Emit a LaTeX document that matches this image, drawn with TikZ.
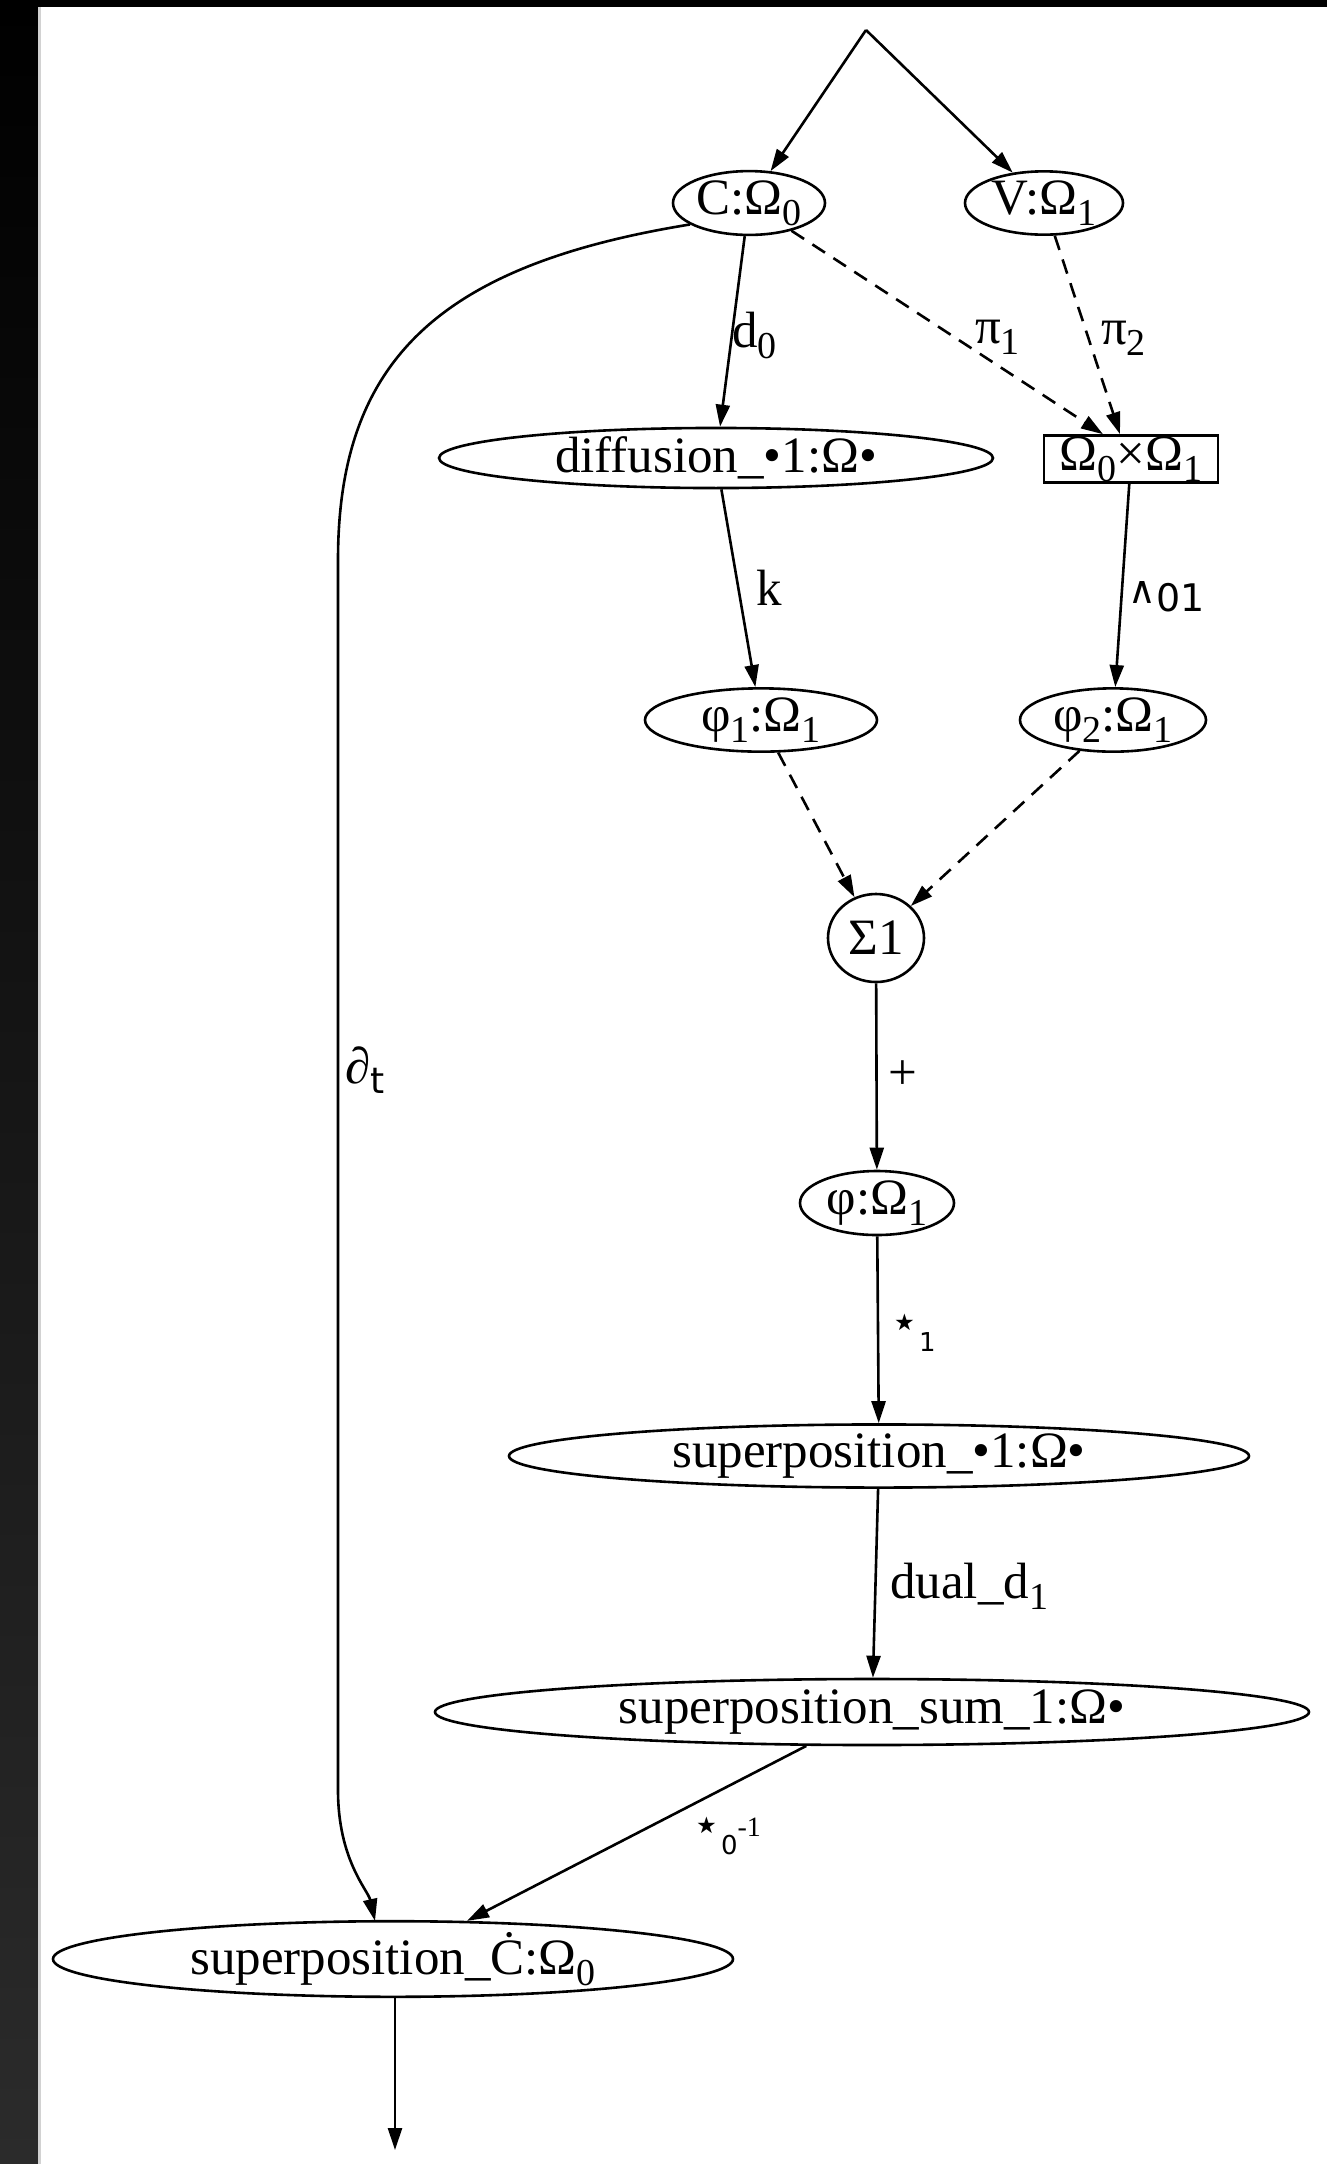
\documentclass[tikz,border=0pt]{standalone}
\usepackage{fontspec}
\setmainfont{Liberation Serif}
\newfontfamily\dejavu{DejaVu Sans}
\usetikzlibrary{shapes.geometric,arrows.meta,calc}
\definecolor{stripgray}{RGB}{43,43,43}
\definecolor{edgegray}{RGB}{210,210,210}
\newcommand{\sbs}[1]{\raisebox{-11pt}{\fontsize{38}{40}\selectfont #1}}
\begin{document}
\begin{tikzpicture}[x=1pt,y=-1pt,
  every node/.style={font=\fontsize{51}{58}\selectfont},
  nd/.style={draw,ellipse,line width=2.6pt,inner sep=0pt},
  bx/.style={draw,rectangle,line width=2.6pt,inner sep=0pt},
  edge/.style={line width=2.6pt,-{Triangle[length=22pt,width=14pt]}},
  dsh/.style={edge,dash pattern=on 15pt off 10pt},
  lbl/.style={inner sep=0pt,anchor=west}
]
\useasboundingbox (0,0) rectangle (1327,2164);
% frame / background
\fill[white] (0,0) rectangle (1327,2164);
\shade[top color=black,bottom color=stripgray] (0,0) rectangle (38,2164);
\fill[edgegray] (38,7) rectangle (41,2164);
\fill[black] (0,0) rectangle (1327,7);

% nodes
\coordinate (top) at (866,30);
\node[nd,minimum width=152pt,minimum height=56pt] (C) at (749,203) {C:Ω\sbs{0}};
\node[nd,minimum width=158pt,minimum height=56pt] (V) at (1044,203) {V:Ω\sbs{1}};
\node[nd,minimum width=554pt,minimum height=56pt] (D) at (716,458) {diffusion\_•1:Ω•};
\node[bx,minimum width=174pt,minimum height=47pt] (B) at (1131,459) {Ω\sbs{0}×Ω\sbs{1}};
\node[nd,minimum width=232pt,minimum height=56pt] (P1) at (761,720) {φ\sbs{1}:Ω\sbs{1}};
\node[nd,minimum width=186pt,minimum height=56pt] (P2) at (1113,720) {φ\sbs{2}:Ω\sbs{1}};
\node[nd,minimum width=96pt,minimum height=88pt] (S) at (876,938) {Σ1};
\node[nd,minimum width=154pt,minimum height=64pt] (P) at (877,1203) {φ:Ω\sbs{1}};
\node[nd,minimum width=740pt,minimum height=61pt] (SP) at (879,1456) {superposition\_•1:Ω•};
\node[nd,minimum width=874pt,minimum height=66pt] (SS) at (872,1712) {superposition\_sum\_1:Ω•};
\node[nd,minimum width=680pt,minimum height=65pt] (CD) at (393,1959) {superposition\_Ċ:Ω\sbs{0}};
\coordinate (bot) at (395,2150);

% edges
\draw[edge] (top) -- (C);
\draw[edge] (top) -- (V);
\draw[edge] (C) -- (D);
\draw[dsh] (C) -- ($(B.north)+(-28,0)$);
\draw[dsh] (V) -- ($(B.north)+(-11,0)$);
\draw[edge] (C.200) .. controls (440,265) and (338,360) .. (338,560) -- (338,1790)
   .. controls (338,1860) and (368,1890) .. ($(CD.north)+(-18,1)$);
\draw[edge] (D) -- (P1);
\draw[edge] (B) -- (P2);
\draw[dsh] (P1) -- (S);
\draw[dsh] (P2) -- (S);
\draw[edge] (S) -- (P);
\draw[edge] (P) -- (SP);
\draw[edge] (SP) -- (SS);
\draw[edge] (SS) -- (CD);
\draw[edge] (CD.south -| bot) -- (bot);

% labels
\node[lbl] (ld0) at (732,335) {d\sbs{0}};
\node[lbl] (lpi1) at (975,337) {π\sbs{1}};
\node[lbl] (lpi2) at (1101,338) {π\sbs{2}};
\node[lbl] (ldt) at (345,1070) {∂\raisebox{-10pt}{\dejavu\fontsize{36}{40}\selectfont t}};
\node[lbl] (lk) at (756,588) {k};
\node[lbl,font=\dejavu\fontsize{38}{44}\selectfont] (lw) at (1128,597) {∧\raisebox{-8pt}{01}};
\node[lbl] (lplus) at (888,1075) {+};
\node[lbl,font=\dejavu\fontsize{46}{48}\selectfont] (ls1) at (890,1333) {⋆\raisebox{-14pt}{\fontsize{26}{30}\selectfont 1}};
\node[lbl] (ldual) at (890,1586) {dual\_d\sbs{1}};
\node[lbl,font=\dejavu\fontsize{46}{48}\selectfont] (ls0) at (692,1836) {⋆\raisebox{-14pt}{\fontsize{26}{30}\selectfont 0}\raisebox{4pt}{\fontsize{28}{30}\selectfont\rmfamily -1}};
\end{tikzpicture}
\end{document}
